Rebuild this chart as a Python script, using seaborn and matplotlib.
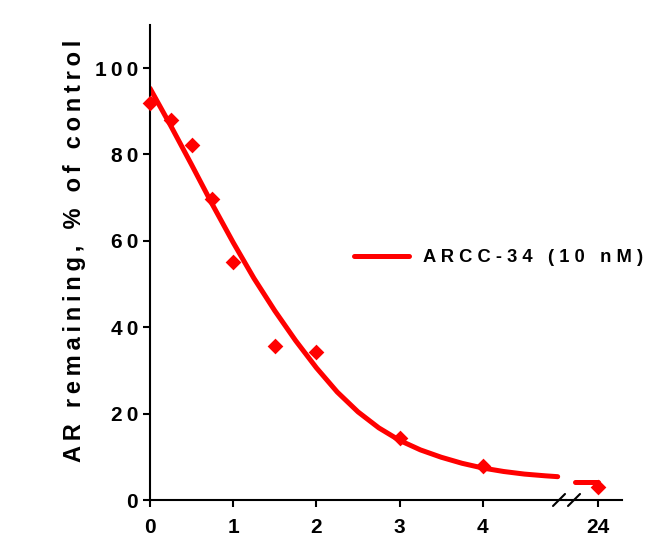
"""AR degradation time course with a broken x axis (0-4 h, then 24 h)."""

import matplotlib.pyplot as plt
from matplotlib.lines import Line2D
import seaborn as sns

# measured points (time in h, AR remaining in % of control)
time_h = [0, 0.25, 0.5, 0.75, 1, 1.5, 2, 3, 4]
ar_pct = [92, 88, 82.2, 69.6, 55, 35.6, 34.3, 14.4, 7.9]
time_late = [24]
ar_late = [3.1]

# fitted curve
fit_x = [0, 0.25, 0.5, 0.75, 1.0, 1.25, 1.5, 1.75, 2.0, 2.25, 2.5, 2.75,
         3.0, 3.25, 3.5, 3.75, 4.0, 4.25, 4.5, 4.75, 4.9]
fit_y = [95.3, 86.6, 77.6, 68.4, 59.6, 51.3, 43.8, 36.9, 30.6, 25.0, 20.4,
         16.7, 13.8, 11.6, 9.9, 8.5, 7.4, 6.6, 6.0, 5.6, 5.4]
fit_x_late = [23.72, 24.0]
fit_y_late = [4.2, 4.2]

series_label = "ARCC-34 (10 nM)"
y_label = "AR remaining, % of control"
y_ticks = [0, 20, 40, 60, 80, 100]
x_ticks = [0, 1, 2, 3, 4]


def spaced(text, sep=" "):
    """Mimic the wide character spacing of the original figure."""
    return sep.join(text)


THIN = "\u2009"

sns.set_theme(style="ticks")
plt.rcParams["font.family"] = ["Liberation Sans", "DejaVu Sans"]
plt.rcParams["font.weight"] = "bold"
plt.rcParams["text.color"] = "black"
plt.rcParams["axes.labelcolor"] = "black"

W, H = 646, 555
fig = plt.figure(figsize=(W / 100, H / 100), dpi=100)

ax = fig.add_axes([150 / W, 1 - 500 / H, 416 / W, 475.2 / H])
ax_r = fig.add_axes([566 / W, 1 - 500 / H, 56 / W, 475.2 / H])

red = "#ff0000"
for a, fx, fy, px, py in [(ax, fit_x, fit_y, time_h, ar_pct),
                          (ax_r, fit_x_late, fit_y_late, time_late, ar_late)]:
    sns.lineplot(x=fx, y=fy, color=red, linewidth=3.6, sort=False,
                 ax=a, label=series_label if a is ax else None, legend=False)
    sns.scatterplot(x=px, y=py, marker="D", s=64, color=red, linewidth=0,
                    ax=a, zorder=3, clip_on=False, legend=False)
    a.lines[0].set_solid_joinstyle("round")
    a.set_ylim(0, 110)
    a.set_xlabel("")
    a.set_ylabel("")
    for side in ["top", "right"]:
        a.spines[side].set_visible(False)
    for side in ["left", "bottom"]:
        a.spines[side].set_linewidth(1.5)
        a.spines[side].set_color("black")
    a.tick_params(axis="both", width=1.5, length=5, color="black",
                  labelsize=15, labelcolor="black")
    a.tick_params(axis="x", pad=8)
    a.tick_params(axis="y", pad=3.5)

ax.set_xlim(0, 5.0)
ax.set_xticks(x_ticks)
ax.set_xticklabels([str(t) for t in x_ticks], fontweight="bold")
ax.set_yticks(y_ticks)
ax.set_yticklabels([spaced(str(t), THIN) for t in y_ticks], fontweight="bold")
ax.set_ylabel(spaced(y_label, THIN), fontsize=17, fontweight="bold")
ax.yaxis.set_label_coords(-0.155, 0.524)

ax_r.set_xlim(24 - 32 / 83.2, 24 + 24 / 83.2)
ax_r.set_xticks(time_late)
ax_r.set_xticklabels([str(t) for t in time_late], fontweight="bold")
ax_r.spines["left"].set_visible(False)
ax_r.set_yticks([])
ax_r.patch.set_alpha(0)

# break marks on the x axis
for x0 in (553, 568):
    fig.add_artist(Line2D([x0 / W, (x0 + 12) / W],
                          [1 - 506 / H, 1 - 494 / H],
                          color="black", linewidth=1.5))

handles, labels = ax.get_legend_handles_labels()
ax.legend(handles, [spaced(series_label)], loc="center left",
          bbox_to_anchor=(354 / W, 1 - 258 / H), bbox_transform=fig.transFigure,
          frameon=False, borderpad=0, borderaxespad=0, handlelength=3.0,
          handletextpad=0.75, prop={"size": 13.2, "weight": "bold"})

fig.savefig("out.png", dpi=100)
